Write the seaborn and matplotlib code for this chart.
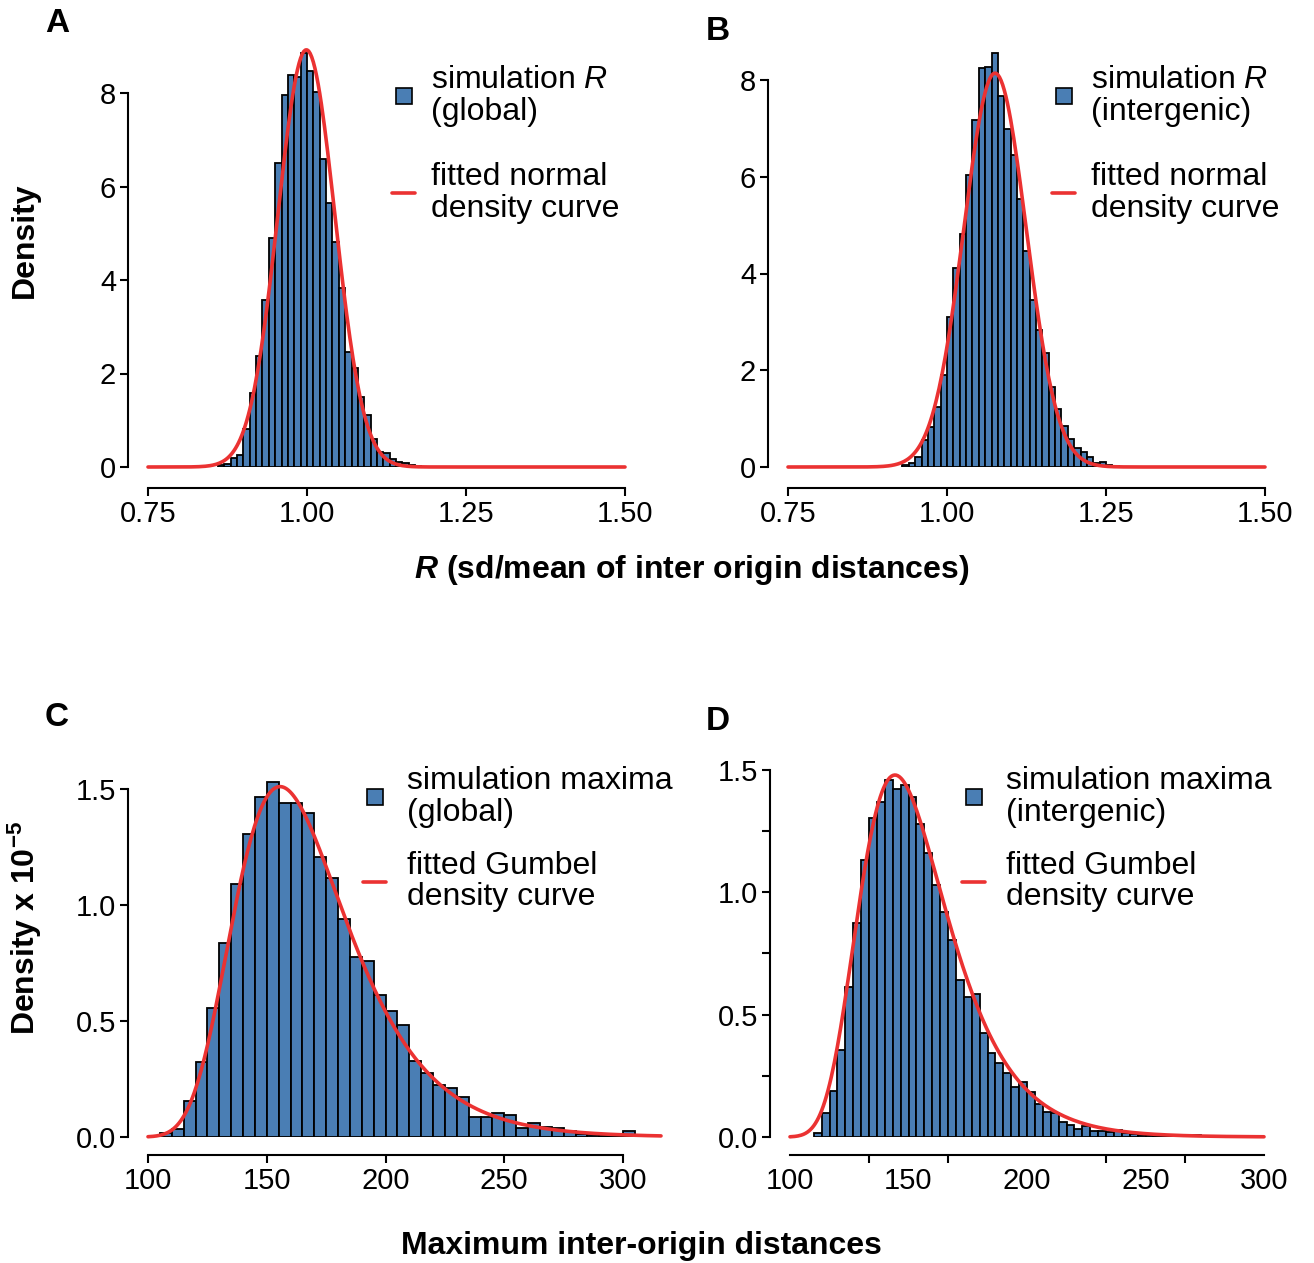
import numpy as np
import pandas as pd
import matplotlib
matplotlib.use("Agg")
import matplotlib.pyplot as plt
import seaborn as sns
from matplotlib.lines import Line2D

# ---------------- data ----------------
# Panel A: simulation R (global), bins of width 0.01 starting at 0.86
A_bin_start = 0.86
A_bin_width = 0.01
A_density = [0.04, 0.06, 0.19, 0.26, 0.81, 1.58, 2.37, 3.57, 4.90, 6.50,
             7.96, 8.39, 8.35, 8.86, 8.47, 8.02, 6.59, 5.65, 4.81, 3.83,
             2.46, 2.12, 1.50, 1.11, 0.60, 0.32, 0.30, 0.17, 0.11, 0.08,
             0.05, 0.03]
A_fit_mean, A_fit_sd = 0.999, 0.0447

# Panel B: simulation R (intergenic), bins of width 0.01 starting at 0.93
B_bin_start = 0.93
B_bin_width = 0.01
B_density = [0.04, 0.09, 0.21, 0.56, 0.83, 1.25, 1.90, 3.11, 4.11, 4.82,
             6.04, 7.17, 8.24, 8.27, 8.56, 7.66, 6.99, 6.45, 5.54, 4.47,
             3.45, 2.83, 2.35, 1.66, 1.20, 0.85, 0.58, 0.39, 0.32, 0.21,
             0.08, 0.11, 0.05, 0.03]
B_fit_mean, B_fit_sd = 1.0755, 0.049

# Panel C: simulation maxima (global), bins of width 5 starting at 105
C_bin_start = 105
C_bin_width = 5
C_density = [0.019, 0.033, 0.157, 0.325, 0.555, 0.835, 1.09, 1.306, 1.464, 1.531,
             1.438, 1.441, 1.398, 1.208, 1.118, 0.941, 0.777, 0.760, 0.612, 0.543,
             0.483, 0.328, 0.277, 0.224, 0.210, 0.174, 0.088, 0.088, 0.102, 0.095,
             0.037, 0.059, 0.045, 0.037, 0.024, 0.014, 0.010, 0.006, 0.006, 0.025,
             0.003]
C_fit_loc, C_fit_scale, C_fit_amp = 155.6, 23.7, 97.3

# Panel D: simulation maxima (intergenic), bins of width 10/3 starting at 110
D_bin_start = 110
D_bin_width = 10 / 3
D_density = [0.015, 0.097, 0.188, 0.356, 0.614, 0.873, 1.132, 1.305, 1.370, 1.459,
             1.421, 1.438, 1.391, 1.278, 1.162, 1.030, 0.921, 0.805, 0.642, 0.571,
             0.584, 0.426, 0.345, 0.301, 0.260, 0.206, 0.226, 0.185, 0.134, 0.103,
             0.099, 0.063, 0.049, 0.031, 0.045, 0.026, 0.024, 0.022, 0.029, 0.015,
             0.012, 0.010, 0.008, 0.006, 0.006, 0.005, 0.004, 0.010, 0.008]
D_fit_loc, D_fit_scale, D_fit_amp = 144.3, 18.6, 74.8

# ---------------- style ----------------
sns.set_theme(style="white")
plt.rcParams["font.family"] = ["Liberation Sans", "DejaVu Sans"]
plt.rcParams["mathtext.fontset"] = "custom"
plt.rcParams["mathtext.rm"] = "Liberation Sans"
plt.rcParams["mathtext.it"] = "Liberation Sans:italic"
plt.rcParams["mathtext.bf"] = "Liberation Sans:bold"
plt.rcParams["mathtext.bfit"] = "Liberation Sans:bold:italic"
plt.rcParams["text.color"] = "black"
plt.rcParams["axes.labelcolor"] = "black"
plt.rcParams["xtick.color"] = "black"
plt.rcParams["ytick.color"] = "black"

BLUE = "#4A7EB4"
RED = "#EB3232"
W, H = 1314, 1263
fig = plt.figure(figsize=(W / 100, H / 100), dpi=100)


def add_ax(xl, xr, yb, yt):
    return fig.add_axes([xl / W, 1 - yb / H, (xr - xl) / W, (yb - yt) / H])


def hist(ax, start, width, dens):
    dens = np.asarray(dens, dtype=float)
    n = len(dens)
    centers = start + width * (np.arange(n) + 0.5)
    df = pd.DataFrame({"x": centers, "w": dens})
    sns.histplot(data=df, x="x", weights="w", binwidth=width,
                 binrange=(start, start + width * n), stat="count", ax=ax,
                 color=BLUE, edgecolor="black", linewidth=1.3, alpha=1)


def style_axes(ax, xb, yb, xoff, yoff):
    for s in ["top", "right"]:
        ax.spines[s].set_visible(False)
    for s in ["left", "bottom"]:
        ax.spines[s].set_color("black")
        ax.spines[s].set_linewidth(1.5)
    ax.spines["left"].set_position(("outward", yoff))
    ax.spines["bottom"].set_position(("outward", xoff))
    ax.spines["bottom"].set_bounds(*xb)
    ax.spines["left"].set_bounds(*yb)
    ax.tick_params(axis="both", which="both", length=5.5, width=1.5, color="black",
                   labelsize=21, labelcolor="black", pad=3, direction="out",
                   bottom=True, left=True)
    ax.set_xlabel("")
    ax.set_ylabel("")
    ax.grid(False)


def legend(ax, labels, x, y, spacing, textpad):
    handles = [Line2D([], [], marker="s", linestyle="none", markerfacecolor=BLUE,
                      markeredgecolor="black", markersize=11, markeredgewidth=1.2),
               Line2D([], [], color=RED, lw=2.6)]
    leg = ax.legend(handles, labels, loc="upper left", bbox_to_anchor=(x / W, 1 - y / H),
                    bbox_transform=fig.transFigure, frameon=False, fontsize=23,
                    handlelength=0.72, handletextpad=textpad, labelspacing=spacing,
                    borderpad=0, borderaxespad=0, labelcolor="black")
    for t in leg.get_texts():
        t.set_linespacing(1.08)


# ---------------- Panel A ----------------
axA = add_ax(148, 625, 467, 46)
hist(axA, A_bin_start, A_bin_width, A_density)
xs = np.linspace(0.75, 1.50, 301)
sns.lineplot(x=xs, y=np.exp(-0.5 * ((xs - A_fit_mean) / A_fit_sd) ** 2) / (A_fit_sd * np.sqrt(2 * np.pi)),
             ax=axA, color=RED, linewidth=2.6, clip_on=False)
axA.set_xlim(0.75, 1.50)
axA.set_ylim(0, (467 - 46) / 46.75)
axA.set_xticks([0.75, 1.00, 1.25, 1.50])
axA.set_xticklabels(["0.75", "1.00", "1.25", "1.50"])
axA.set_yticks([0, 2, 4, 6, 8])
style_axes(axA, (0.75, 1.50), (0, 8), 15, 14.4)
legend(axA, ["simulation $\\mathit{R}$\n(global)", "fitted normal\ndensity curve"], 392, 65, 1.1, 0.5)

# ---------------- Panel B ----------------
axB = add_ax(788, 1265, 467, 46)
hist(axB, B_bin_start, B_bin_width, B_density)
sns.lineplot(x=xs, y=np.exp(-0.5 * ((xs - B_fit_mean) / B_fit_sd) ** 2) / (B_fit_sd * np.sqrt(2 * np.pi)),
             ax=axB, color=RED, linewidth=2.6, clip_on=False)
axB.set_xlim(0.75, 1.50)
axB.set_ylim(0, (467 - 46) / 48.375)
axB.set_xticks([0.75, 1.00, 1.25, 1.50])
axB.set_xticklabels(["0.75", "1.00", "1.25", "1.50"])
axB.set_yticks([0, 2, 4, 6, 8])
style_axes(axB, (0.75, 1.50), (0, 8), 15, 14.4)
legend(axB, ["simulation $\\mathit{R}$\n(intergenic)", "fitted normal\ndensity curve"], 1052, 65, 1.1, 0.5)

# ---------------- Panel C ----------------
axC = add_ax(148, 148 + 216 * 2.375, 1137, 760)
hist(axC, C_bin_start, C_bin_width, C_density)
xc = np.linspace(100, 316, 300)
zc = (xc - C_fit_loc) / C_fit_scale
sns.lineplot(x=xc, y=C_fit_amp / C_fit_scale * np.exp(-(zc + np.exp(-zc))),
             ax=axC, color=RED, linewidth=2.6, clip_on=False)
axC.set_xlim(100, 316)
axC.set_ylim(0, (1137 - 760) / 232)
axC.set_xticks([100, 150, 200, 250, 300])
axC.set_yticks([0, 0.5, 1.0, 1.5])
axC.set_yticklabels(["0.0", "0.5", "1.0", "1.5"])
style_axes(axC, (100, 300), (0, 1.5), 13, 14.4)
legend(axC, ["simulation maxima\n(global)", "fitted Gumbel\ndensity curve"], 363, 766, 0.71, 0.66)

# ---------------- Panel D ----------------
axD = add_ax(790, 1264, 1137, 760)
hist(axD, D_bin_start, D_bin_width, D_density)
xd = np.linspace(100, 300, 300)
zd = (xd - D_fit_loc) / D_fit_scale
sns.lineplot(x=xd, y=D_fit_amp / D_fit_scale * np.exp(-(zd + np.exp(-zd))),
             ax=axD, color=RED, linewidth=2.6, clip_on=False)
axD.set_xlim(100, 300)
axD.set_ylim(0, (1137 - 760) / 244.67)
axD.set_xticks([100, 150, 200, 250, 300])
axD.set_xticks(np.linspace(100, 300, 7), minor=True)
axD.set_yticks([0, 0.5, 1.0, 1.5])
axD.set_yticks([0.25, 0.75, 1.25], minor=True)
axD.set_yticklabels(["0.0", "0.5", "1.0", "1.5"])
style_axes(axD, (100, 300), (0, 1.5), 13, 14.4)
axD.tick_params(axis="x", which="major", length=0, pad=8.5)
legend(axD, ["simulation maxima\n(intergenic)", "fitted Gumbel\ndensity curve"], 962, 766, 0.71, 0.66)

# ---------------- shared text ----------------
fig.text(25 / W, 1 - 240 / H, "Density", rotation=90, ha="center", va="center",
         fontsize=23, fontweight="bold", color="black")
fig.text(25 / W, 1 - 928 / H, "Density x 10$^{\\mathbf{-5}}$", rotation=90, ha="center",
         va="center", fontsize=23, fontweight="bold", color="black")
fig.text(692 / W, 1 - 570 / H, "$\\boldsymbol{R}$ (sd/mean of inter origin distances)",
         ha="center", va="center", fontsize=23, fontweight="bold", color="black")
fig.text(641 / W, 1 - 1246 / H, "Maximum inter-origin distances", ha="center", va="center",
         fontsize=23, fontweight="bold", color="black")
for letter, (px, py) in {"A": (57, 23), "B": (718, 32), "C": (57, 718), "D": (718, 722)}.items():
    fig.text(px / W, 1 - py / H, letter, ha="center", va="center", fontsize=24,
             fontweight="bold", color="black")

fig.savefig("out.png", dpi=100)
